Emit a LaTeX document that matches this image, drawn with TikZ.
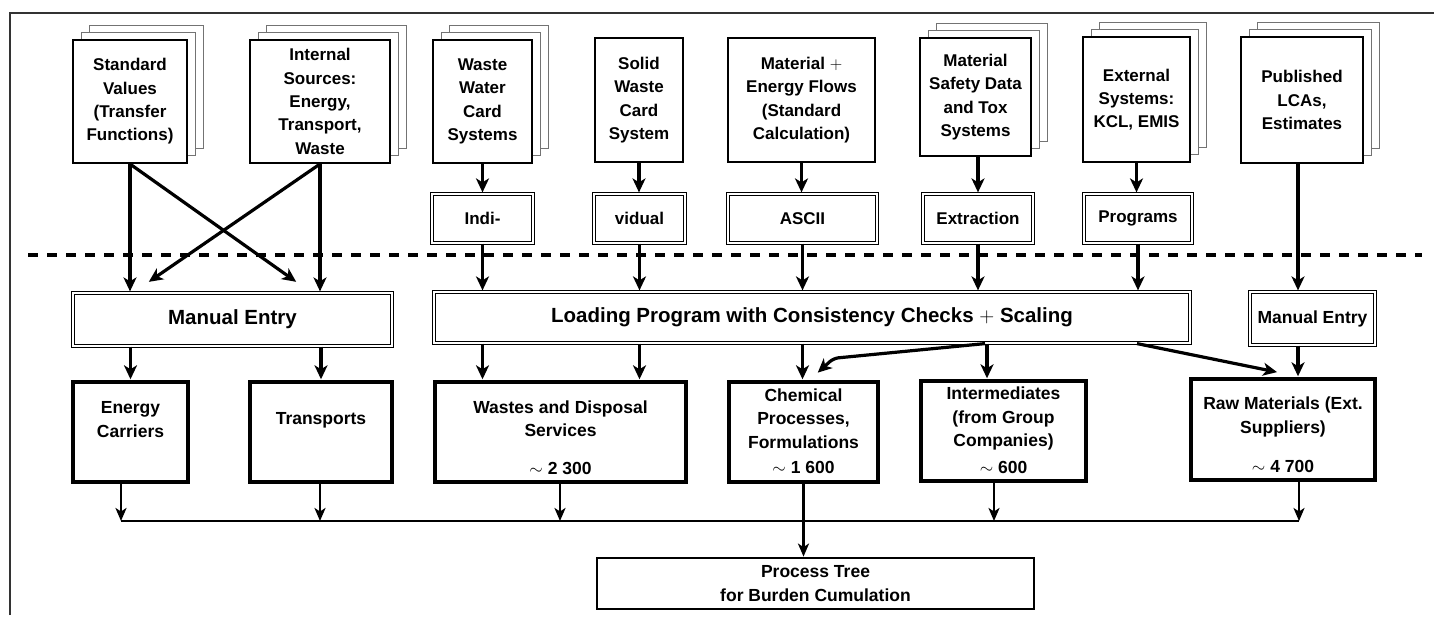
\documentclass[tikz,border=0pt]{standalone}
\usepackage{fontspec}
\setmainfont{Liberation Sans}
\usetikzlibrary{arrows.meta,calc}
\newcommand\ftop{\fontsize{17}{23.3}\selectfont\bfseries}
\newcommand\fbot{\fontsize{17.5}{23.5}\selectfont\bfseries}
\newcommand\fbig{\fontsize{20.5}{24}\selectfont\bfseries}
\newcommand\pgstack[4]{%
  \draw[pagebox] ({#1-#3/2+16},{#2-#4/2-15}) rectangle ++(#3,#4);
  \draw[pagebox] ({#1-#3/2+8},{#2-#4/2-7.5}) rectangle ++(#3,#4);
}
\tikzset{
  topbox/.style={draw, line width=2pt, fill=white, inner sep=0pt, align=center, font=\ftop},
  pagebox/.style={draw=black!55, line width=0.9pt, fill=white},
  dbox/.style={draw, line width=1.2pt, double=white, double distance=2.4pt, inner sep=0pt, align=center, fill=white},
  bbox/.style={draw, line width=3.4pt, inner sep=0pt},
  ptbox/.style={draw, line width=2.8pt, inner sep=0pt, align=center, font=\fbot},
  txt/.style={inner sep=0pt, align=center, font=\fbot},
  arr/.style={line width=3.2pt, -{Stealth[length=14pt,width=13pt,inset=4pt]}, shorten >=1pt},
  dropa/.style={line width=2.8pt, -{Stealth[length=13pt,width=11pt,inset=3.5pt]}},
  busline/.style={line width=2.6pt},
  frameline/.style={line width=1.5pt, draw=black!80},
  sepline/.style={line width=4pt, dash pattern=on 10pt off 9pt}
}
\begin{document}
\begin{tikzpicture}[x=1pt,y=-1pt]
\useasboundingbox[fill=white] (0,0) rectangle (1434,620);
% frame
\draw[frameline] (10,615) -- (10,13) -- (1434,13);
% separator
\draw[sepline] (28,255) -- (1422,255);

% top source boxes
\pgstack{130}{101.5}{114}{123}
\node[topbox, minimum width=114pt, minimum height=123pt] (sv) at (130,101.5) {Standard\\Values\\(Transfer\\Functions)};
\pgstack{320}{101.5}{140}{123}
\node[topbox, minimum width=140pt, minimum height=123pt] (is) at (320,101.5) {Internal\\Sources:\\Energy,\\Transport,\\Waste};
\pgstack{482.5}{101.5}{99}{123}
\node[topbox, minimum width=99pt, minimum height=123pt] (ww) at (482.5,101.5) {Waste\\Water\\Card\\Systems};
\node[topbox, minimum width=88pt, minimum height=124pt] (sw) at (639,100) {Solid\\Waste\\Card\\System};
\node[topbox, minimum width=147pt, minimum height=124pt] (mef) at (801.5,100) {Material $+$\\Energy Flows\\(Standard\\Calculation)};
\pgstack{975.5}{97}{111}{118}
\node[topbox, minimum width=111pt, minimum height=118pt] (msd) at (975.5,97) {Material\\Safety Data\\and Tox\\Systems};
\pgstack{1136.5}{99.5}{107}{125}
\node[topbox, minimum width=107pt, minimum height=125pt] (ext) at (1136.5,99.5) {External\\Systems:\\KCL, EMIS};
\pgstack{1302}{100}{122}{126}
\node[topbox, minimum width=122pt, minimum height=126pt] (pub) at (1302,100) {Published\\LCAs,\\Estimates};

% middle double boxes
\node[dbox, font=\ftop, minimum width=101pt, minimum height=49pt] (indi) at (482.5,218.5) {Indi-};
\node[dbox, font=\ftop, minimum width=91pt, minimum height=49pt] (vid) at (639.5,218.5) {vidual};
\node[dbox, font=\ftop, minimum width=149pt, minimum height=49pt] (ascii) at (802.5,218.5) {ASCII};
\node[dbox, font=\ftop, minimum width=110pt, minimum height=49pt] (extr) at (978,218.5) {Extraction};
\node[dbox, font=\ftop, minimum width=108pt, minimum height=49pt] (prog) at (1138,218.5) {Programs};

\node[dbox, font=\fbig, minimum width=319pt, minimum height=53pt] (me) at (232.5,319.5) {Manual Entry};
\node[dbox, font=\fbig, minimum width=756pt, minimum height=51pt] (load) at (812,317.5) {Loading Program with Consistency Checks $+$ Scaling};
\node[dbox, font=\fbot, minimum width=125pt, minimum height=53pt] (mer) at (1312.5,318.5) {Manual Entry};

% bottom boxes
\node[bbox, minimum width=115pt, minimum height=100pt] (ec) at (130.5,432) {};
\node[txt] (ect) at (130.5,419.5) {Energy\\Carriers};
\node[bbox, minimum width=142pt, minimum height=100pt] (tr) at (321,432) {};
\node[txt] (trt) at (321,420) {Transports};
\node[bbox, minimum width=251pt, minimum height=100pt] (wd) at (560.5,432) {};
\node[txt] (wdt) at (560.5,418.5) {Wastes and Disposal\\Services};
\node[txt] (wdn) at (560.5,468) {$\sim$ 2 300};
\node[bbox, minimum width=149pt, minimum height=100pt] (cp) at (803.5,432) {};
\node[txt] (cpt) at (803.5,418.5) {Chemical\\Processes,\\Formulations};
\node[txt] (cpn) at (803.5,467) {$\sim$ 1 600};
\node[bbox, minimum width=165pt, minimum height=100pt] (im) at (1003.5,431) {};
\node[txt] (imt) at (1003.5,418.5) {Intermediates\\(from Group\\Companies)};
\node[txt] (imn) at (1003.5,467) {$\sim$ 600};
\node[bbox, minimum width=184pt, minimum height=101pt] (raw) at (1283,429.5) {};
\node[txt] (rawt) at (1283,417) {Raw Materials (Ext.\\Suppliers)};
\node[txt] (rawn) at (1283,466) {$\sim$ 4 700};

\node[ptbox, minimum width=437pt, minimum height=51pt] (pt) at (815.5,583.5) {Process Tree\\for Burden Cumulation};

% column and bus coordinates
\coordinate (colR) at (1298,0);
\coordinate (colIm) at (987,0);
\coordinate (dEC) at (121,0);
\coordinate (dTR) at (320,0);
\coordinate (dWD) at (560,0);
\coordinate (dIM) at (994,0);
\coordinate (dRW) at (1299,0);
\coordinate (bus) at (0,521);
\coordinate (busL) at (121,521);
\coordinate (busR) at (1299,521);

% top arrows
\draw[arr] (ww.south) -- (ww.south |- indi.north);
\draw[arr] (sw.south) -- (sw.south |- vid.north);
\draw[arr] (mef.south) -- (mef.south |- ascii.north);
\draw[arr] (extr.north |- msd.south) -- (extr.north);
\draw[arr] (ext.south) -- (ext.south |- prog.north);

% into Loading
\draw[arr] (indi.south) -- (indi.south |- load.north);
\draw[arr] (vid.south) -- (vid.south |- load.north);
\draw[arr] (ascii.south) -- (ascii.south |- load.north);
\draw[arr] (extr.south) -- (extr.south |- load.north);
\draw[arr] (prog.south) -- (prog.south |- load.north);
\draw[arr] (colR |- pub.south) -- (colR |- mer.north);

% manual entry left
\draw[arr] (sv.south) -- (sv.south |- me.north);
\draw[arr] (is.south) -- (is.south |- me.north);
\draw[arr] (sv.south) -- ($(is.south |- me.north)+(-23,-10)$);
\draw[arr] (is.south) -- ($(sv.south |- me.north)+(18,-10)$);
\draw[arr] (ec.north |- me.south) -- (ec.north);
\draw[arr] (tr.north |- me.south) -- (tr.north);

% out of Loading
\draw[arr] (indi.south |- load.south) -- (indi.south |- wd.north);
\draw[arr] (vid.south |- load.south) -- (vid.south |- wd.north);
\draw[arr] (ascii.south |- load.south) -- (ascii.south |- cp.north);
\draw[arr] (colIm |- load.south) -- (colIm |- im.north);
\draw[arr, rounded corners=5pt] ($(load.south)+(173,0)$) -- ($(cp.north)+(30,-22)$) -- ($(cp.north)+(13.5,-7)$);
\draw[arr] ($(load.south)+(325,0)$) -- ($(raw.north)+(-5,-5)$);
\draw[arr] (colR |- mer.south) -- (colR |- raw.north);

% bus
\draw[busline] (busL) -- (busR);
\draw[dropa] (dEC |- ec.south) -- (dEC |- bus);
\draw[dropa] (dTR |- tr.south) -- (dTR |- bus);
\draw[dropa] (dWD |- wd.south) -- (dWD |- bus);
\draw[dropa] (dIM |- im.south) -- (dIM |- bus);
\draw[dropa] (dRW |- raw.south) -- (dRW |- bus);
\draw[dropa] (cp.south) -- (cp.south |- pt.north);
\end{tikzpicture}
\end{document}
